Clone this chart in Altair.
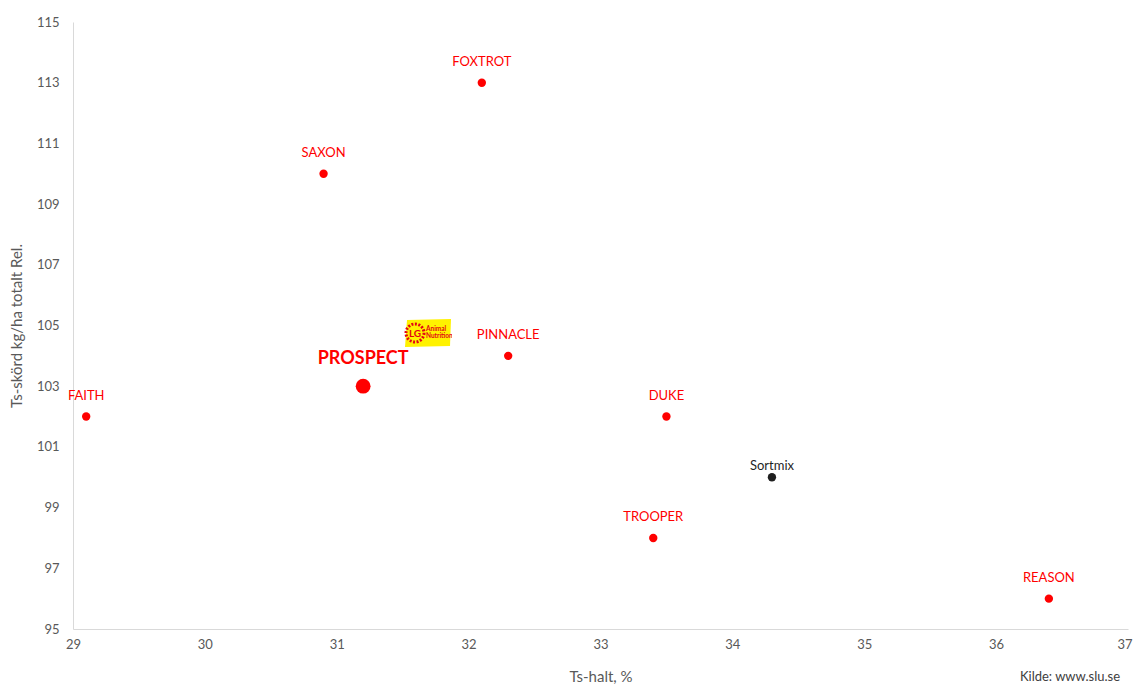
import base64
import altair as alt
import pandas as pd

sorter = ["FAITH", "SAXON", "PROSPECT", "FOXTROT", "PINNACLE", "DUKE", "Sortmix", "TROOPER", "REASON"]
ts_halt = [29.1, 30.9, 31.2, 32.1, 32.3, 33.5, 34.3, 33.4, 36.4]
ts_skord = [102, 110, 103, 113, 104, 102, 100, 98, 96]
grupp = ["sort", "sort", "huvud", "sort", "sort", "sort", "mix", "sort", "sort"]

x_ticks = [29, 30, 31, 32, 33, 34, 35, 36, 37]
y_ticks = [95, 97, 99, 101, 103, 105, 107, 109, 111, 113, 115]

df = pd.DataFrame({"sort": sorter, "ts_halt": ts_halt, "ts_skord": ts_skord, "grupp": grupp})

FONT = "Lato"
RED = "#ff0000"
BLACK = "#1f1f1f"

xs = alt.X("ts_halt:Q", scale=alt.Scale(domain=[29, 37], nice=False, zero=False),
           axis=alt.Axis(values=x_ticks, title="Ts-halt, %", labelPadding=9, titlePadding=18, labelFlush=False,
                         labelAlign={"condition": {"test": "datum.value >= 37", "value": "right"}, "value": "center"},
                         labelOffset={"condition": {"test": "datum.value >= 37", "value": 4}, "value": 0}))
ys = alt.Y("ts_skord:Q", scale=alt.Scale(domain=[95, 115], nice=False, zero=False),
           axis=alt.Axis(values=y_ticks, title="Ts-skörd kg/ha totalt Rel.", labelPadding=14, titlePadding=12,
                         labelFlush=False))

base = alt.Chart(df).encode(x=xs, y=ys)

pts_std = base.transform_filter(alt.datum.grupp == "sort").mark_circle(opacity=1, size=70, color=RED)
pts_main = base.transform_filter(alt.datum.grupp == "huvud").mark_circle(opacity=1, size=220, color=RED)
pts_mix = base.transform_filter(alt.datum.grupp == "mix").mark_circle(opacity=1, size=70, color=BLACK)

lab_std = base.transform_filter(alt.datum.grupp == "sort").mark_text(
    dy=-21, fontSize=13, font=FONT, color=RED).encode(text="sort:N")
lab_main = base.transform_filter(alt.datum.grupp == "huvud").mark_text(
    dy=-27, fontSize=18, fontWeight="bold", font=FONT, color=RED).encode(text="sort:N")
lab_mix = base.transform_filter(alt.datum.grupp == "mix").mark_text(
    dy=-11, fontSize=13, font=FONT, color=BLACK).encode(text="sort:N")

logo_svg = (
    "<svg xmlns='http://www.w3.org/2000/svg' width='48' height='28' viewBox='0 0 48 28'>"
    "<path d='M3 1 L47 0 L46 27 L1 28 Z' fill='#fff200'/>"
    "<circle cx='11' cy='14' r='9' fill='none' stroke='#e30613' stroke-width='3' stroke-dasharray='2 1.5'/>"
    "<text x='11' y='18' font-family='Lato' font-size='10' font-weight='bold' fill='#e30613' text-anchor='middle'>LG</text>"
    "<text x='22' y='12' font-family='Lato' font-size='6.5' font-weight='bold' fill='#e30613'>Animal</text>"
    "<text x='22' y='19' font-family='Lato' font-size='6.5' font-weight='bold' fill='#e30613'>Nutrition</text>"
    "</svg>"
)
logo_url = "data:image/svg+xml;base64," + base64.b64encode(logo_svg.encode()).decode()

logo = alt.Chart(pd.DataFrame({"url": [logo_url]})).mark_image(width=48, height=28).encode(
    url="url:N", x=alt.value(355), y=alt.value(311))

kilde = alt.Chart(pd.DataFrame({"t": ["Kilde: www.slu.se"]})).mark_text(
    fontSize=13, font=FONT, color="#404040", align="center", baseline="bottom").encode(
    text="t:N", x=alt.value(997), y=alt.value(662))

chart = alt.layer(pts_std, pts_main, pts_mix, lab_std, lab_main, lab_mix, logo, kilde).properties(
    width=1055, height=607,
    autosize=alt.AutoSizeParams(type="none"),
    padding={"left": 65, "top": 14, "right": 5, "bottom": 57},
).configure_view(stroke=None).configure_axis(
    domainColor="#d9d9d9", domainWidth=1, ticks=False, grid=False,
    labelColor="#595959", labelFont=FONT, labelFontSize=13,
    titleColor="#595959", titleFont=FONT, titleFontSize=15, titleFontWeight="normal",
)

chart.save("out.html", embed_options={"renderer": "svg", "actions": False})
